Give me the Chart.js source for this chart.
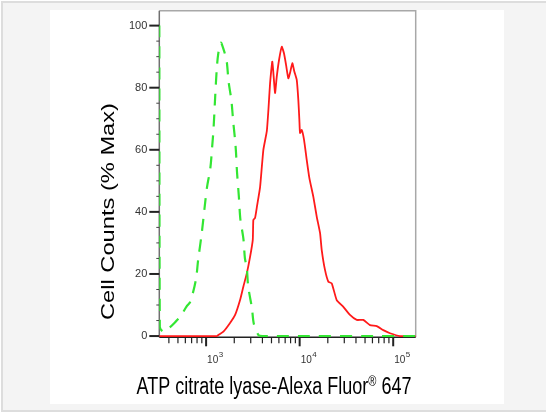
<!DOCTYPE html>
<html><head><meta charset="utf-8">
<script src="https://cdn.jsdelivr.net/npm/chart.js@4"></script>
<style>
html,body{margin:0;padding:0;background:#fff;}
#wrap{position:relative;width:546px;height:412px;}
canvas{display:block;}
</style></head><body>
<div id="wrap"><canvas id="c" width="546" height="412"></canvas></div>
<script>
// ---- data ----
const greenX = [316,320,347,398,468,537,617,676,776,822,897,977,1023,1109,1161,1202,1250,1300,1349,1435,1549,1660,1738,1862,1950,2042,2089,2138,2239,2317,2399,2512,2600,2723,2818,3090,3236,3631,3981,174000];
const greenY = [100,3,1.5,2.5,4.5,6.5,9.5,11,18,24.5,33,43,48,54,61,67,77,86,91,94.5,92,88.5,82,76,69,63,59,53,45,38,35,31,25,22,16,9,4,0.3,0,0];
const redX = [316,1300,1380,1531,1803,2042,2307,2500,2723,2951,3155,3199,3334,3508,3776,4093,4457,4634,4831,5105,5458,5689,6026,6442,6808,7161,7568,7889,8356,8770,9311,9683,9931,10093,10520,11143,11912,12706,13996,15241,16520,17219,18664,20277,22029,24889,29309,34514,40738,47863,56494,66681,78343,92470,118304,174000];
const redY = [0,0,0.5,1.4,4.2,6.8,11.6,15.9,20.2,25.5,31,37.4,38,42,48,60,66,72.8,81.5,88.4,78.3,83.5,89,93.2,91,87.3,83,84.7,87.9,85.2,82.5,76,69.6,65.4,66.4,63.2,56.7,50.9,44.9,38.4,33.2,27.7,21.3,17.5,17,11.6,9.4,6.8,5.2,5.2,3.5,3.2,1.9,0.9,0,0];
const yMajorTicks = [0,20,40,60,80,100];
const yMinorTicks = [5,10,15,25,30,35,45,50,55,65,70,75,85,90,95];
const xMajorTicks = [1000,10000,100000];
const xMajorExp = ['3','4','5'];
const xMinorTicks = [400,500,600,700,800,900,2000,3000,4000,5000,6000,7000,8000,9000,20000,30000,40000,50000,60000,70000,80000,90000];
const xTitle = 'ATP citrate lyase-Alexa Fluor';
const xTitleSup = '\u00AE';
const xTitleEnd = ' 647';
const yTitle = 'Cell Counts (% Max)';

const pts = (xs, ys) => xs.map((x, i) => ({x, y: ys[i]}));

const decor = {
  id: 'decor',
  beforeDraw(chart) {
    const ctx = chart.ctx;
    ctx.save();
    ctx.fillStyle = '#ffffff';
    ctx.fillRect(0, 0, 546, 412);
    ctx.fillStyle = '#dddddd';
    ctx.fillRect(1, 1, 546, 411);
    ctx.fillStyle = '#f4f4f4';
    ctx.fillRect(3, 3, 546, 407);
    ctx.fillStyle = '#ffffff';
    ctx.fillRect(50, 10, 454, 394);
    ctx.restore();
  },
  beforeDatasetsDraw(chart) {
    const ctx = chart.ctx, a = chart.chartArea;
    const xs = chart.scales.x, ys = chart.scales.y;
    ctx.save();
    // frame
    ctx.lineWidth = 1.5;
    ctx.strokeStyle = '#a8a8a8';
    ctx.beginPath();
    ctx.moveTo(a.left, a.top); ctx.lineTo(a.right, a.top); ctx.lineTo(a.right, a.bottom);
    ctx.stroke();
    ctx.strokeStyle = '#707070';
    ctx.beginPath(); ctx.moveTo(a.left, a.top); ctx.lineTo(a.left, a.bottom); ctx.stroke();
    ctx.strokeStyle = '#222';
    ctx.beginPath(); ctx.moveTo(a.left, a.bottom); ctx.lineTo(a.right, a.bottom); ctx.stroke();
    // y ticks
    ctx.strokeStyle = '#222';
    ctx.lineWidth = 2;
    yMajorTicks.forEach(v => {
      const y = ys.getPixelForValue(v);
      ctx.beginPath(); ctx.moveTo(a.left - 10, y); ctx.lineTo(a.left, y); ctx.stroke();
    });
    ctx.lineWidth = 1;
    ctx.strokeStyle = '#444';
    yMinorTicks.forEach(v => {
      const y = ys.getPixelForValue(v);
      ctx.beginPath(); ctx.moveTo(a.left - 3, y); ctx.lineTo(a.left, y); ctx.stroke();
    });
    // x ticks
    ctx.strokeStyle = '#222';
    ctx.lineWidth = 2;
    xMajorTicks.forEach(v => {
      const x = xs.getPixelForValue(v);
      ctx.beginPath(); ctx.moveTo(x, a.bottom); ctx.lineTo(x, a.bottom + 9); ctx.stroke();
    });
    ctx.lineWidth = 1.2;
    xMinorTicks.forEach(v => {
      const x = xs.getPixelForValue(v);
      ctx.beginPath(); ctx.moveTo(x, a.bottom); ctx.lineTo(x, a.bottom + 6); ctx.stroke();
    });
    ctx.restore();
  },
  afterDraw(chart) {
    const ctx = chart.ctx, a = chart.chartArea;
    const xs = chart.scales.x, ys = chart.scales.y;
    ctx.save();
    // y tick labels
    ctx.fillStyle = '#333';
    ctx.font = '11px "Liberation Sans Narrow", "Liberation Sans", Arial, sans-serif';
    ctx.textAlign = 'right';
    ctx.textBaseline = 'middle';
    yMajorTicks.forEach(v => {
      ctx.fillText(String(v), a.left - 12, ys.getPixelForValue(v));
    });
    // x tick labels with superscript
    ctx.textAlign = 'left';
    ctx.textBaseline = 'alphabetic';
    xMajorTicks.forEach((v, i) => {
      const x = xs.getPixelForValue(v) + 1;
      ctx.font = '10px "Liberation Sans Narrow", "Liberation Sans", Arial, sans-serif';
      ctx.fillText('10', x, a.bottom + 26);
      const w = ctx.measureText('10').width;
      ctx.font = '8px "Liberation Sans Narrow", "Liberation Sans", Arial, sans-serif';
      ctx.fillText(xMajorExp[i], x + w + 0.5, a.bottom + 20);
    });
    // x title (vertically stretched like the reference)
    ctx.fillStyle = '#000';
    const fMain = '18px "Liberation Sans", Arial, sans-serif';
    const fSup = '11px "Liberation Sans", Arial, sans-serif';
    ctx.font = fMain;
    const w1 = ctx.measureText(xTitle).width;
    const w3 = ctx.measureText(xTitleEnd).width;
    ctx.font = fSup;
    const w2 = ctx.measureText(xTitleSup).width;
    const total = w1 + w2 + w3;
    const cx = 274, base = 394;
    ctx.save();
    ctx.translate(cx - total / 2, base);
    ctx.scale(1, 1.37);
    ctx.font = fMain;
    ctx.fillText(xTitle, 0, 0);
    ctx.font = fSup;
    ctx.fillText(xTitleSup, w1, -6);
    ctx.font = fMain;
    ctx.fillText(xTitleEnd, w1 + w2, 0);
    ctx.restore();
    // y title (rotated, stretched along its length)
    ctx.save();
    ctx.font = '18.5px "Liberation Sans", Arial, sans-serif';
    const wy = ctx.measureText(yTitle).width;
    ctx.translate(114, 211.5);
    ctx.rotate(-Math.PI / 2);
    ctx.scale(217 / wy, 1);
    ctx.textAlign = 'center';
    ctx.textBaseline = 'alphabetic';
    ctx.fillText(yTitle, 0, 0);
    ctx.restore();
    ctx.restore();
  }
};

new Chart(document.getElementById('c'), {
  type: 'line',
  data: {
    datasets: [
      {
        label: 'Isotype control',
        data: pts(greenX, greenY),
        borderColor: '#33e633',
        borderWidth: 2.2,
        borderDash: [12, 9],
        pointRadius: 0,
        tension: 0.3,
        fill: false
      },
      {
        label: 'ATP citrate lyase',
        data: pts(redX, redY),
        borderColor: '#ff1a1a',
        borderWidth: 1.8,
        pointRadius: 0,
        tension: 0.15,
        fill: false
      }
    ]
  },
  options: {
    responsive: false,
    devicePixelRatio: 1,
    animation: false,
    layout: { padding: { left: 0, right: 130.3, top: 10.7, bottom: 0 } },
    plugins: { legend: { display: false }, tooltip: { enabled: false } },
    scales: {
      x: {
        type: 'logarithmic',
        min: 316,
        max: 174000,
        grid: { display: false },
        border: { display: false },
        ticks: { display: false },
        afterFit(s) { s.height = 74.7; }
      },
      y: {
        type: 'linear',
        min: -0.4,
        max: 104.8,
        grid: { display: false },
        border: { display: false },
        ticks: { display: false, includeBounds: false },
        afterFit(s) { s.width = 159.3; }
      }
    }
  },
  plugins: [decor]
});
</script>
</body></html>
